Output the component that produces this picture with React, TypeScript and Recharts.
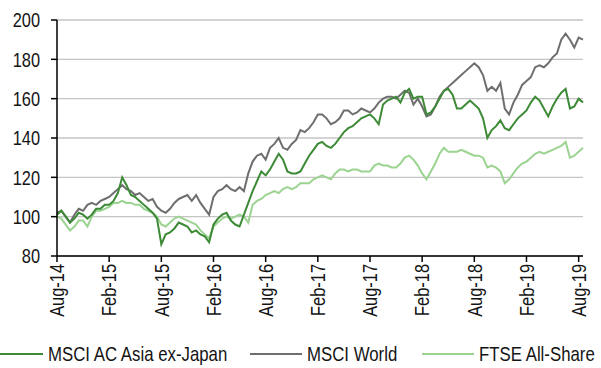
import React from 'react';
import { LineChart, Line, XAxis, YAxis, CartesianGrid, Legend } from 'recharts';

// half-month steps from Aug-14 (t = 0) to mid Aug-19
const TICK_LABELS = ['Aug-14', 'Feb-15', 'Aug-15', 'Feb-16', 'Aug-16', 'Feb-17', 'Aug-17', 'Feb-18', 'Aug-18', 'Feb-19', 'Aug-19'];
const Y_TICKS = [80, 100, 120, 140, 160, 180, 200];

const asiaExJapan = [
  101, 103, 100, 97, 99, 102, 101, 99, 101, 104,
  104, 106, 106, 108, 112, 120, 116, 111, 110, 108,
  106, 104, 102, 99, 86, 91, 92, 94, 97, 96,
  95, 92, 93, 91, 90, 87, 96, 99, 101, 102,
  98, 96, 95, 101, 107, 113, 118, 123, 121, 124,
  128, 132, 129, 123, 122, 122, 123, 127, 131, 134,
  137, 138, 136, 135, 137, 140, 143, 145, 146, 148,
  150, 151, 152, 150, 147, 157, 159, 160, 161, 158,
  163, 165, 160, 161, 161, 152, 153, 156, 160, 164,
  165, 162, 155, 155, 157, 159, 157, 155, 150, 140,
  144, 146, 149, 145, 144, 147, 150, 152, 154, 158,
  161, 159, 155, 151, 156, 160, 163, 165, 155, 156,
  160, 158,
];

const msciWorld = [
  102, 103, 100, 97, 101, 104, 103, 106, 107, 106,
  108, 109, 110, 112, 114, 116, 114, 113, 111, 112,
  110, 108, 109, 105, 103, 102, 104, 107, 109, 110,
  111, 108, 111, 107, 104, 101, 110, 113, 114, 116,
  114, 113, 115, 113, 122, 128, 131, 132, 129, 135,
  137, 140, 135, 134, 137, 139, 144, 143, 145, 148,
  152, 152, 150, 147, 148, 150, 154, 154, 152, 153,
  155, 154, 153, 155, 158, 160, 161, 161, 160, 162,
  164, 163, 157, 160, 156, 151, 152, 156, 161, 164,
  166, 168, 170, 172, 174, 176, 178, 176, 172, 164,
  166, 164, 168, 155, 152, 158, 162, 167, 169, 171,
  176, 177, 176, 178, 181, 183, 190, 193, 190, 186,
  191, 190,
];

const ftseAllShare = [
  100, 99, 96, 93, 95, 98, 98, 95, 100, 103,
  103, 104, 105, 107, 107, 108, 107, 107, 106, 106,
  104, 103, 102, 100, 96, 95, 97, 99, 100, 99,
  98, 97, 96, 93, 91, 89, 95, 97, 99, 100,
  99, 100, 101, 100, 97, 106, 108, 109, 111, 112,
  113, 112, 114, 115, 114, 115, 117, 117, 117, 119,
  120, 121, 120, 119, 122, 124, 124, 123, 124, 124,
  123, 123, 123, 126, 127, 126, 126, 125, 125, 127,
  130, 131, 129, 126, 122, 119, 123, 127, 132, 135,
  133, 133, 133, 134, 133, 132, 131, 131, 130, 125,
  126, 125, 123, 117, 119, 122, 125, 127, 128, 130,
  132, 133, 132, 133, 134, 135, 136, 138, 130, 131,
  133, 135,
];

const data = asiaExJapan.map((v, i) => ({
  t: i / 2,
  asia: v,
  world: msciWorld[i],
  ftse: ftseAllShare[i],
}));

// no narrow font installed: squeeze Liberation Sans horizontally instead
const FONT = '"Liberation Sans", Arial, sans-serif';
const SQUEEZE = 0.82;
const TEXT = '#141414';

const SERIES = [
  { key: 'asia', name: 'MSCI AC Asia ex-Japan', color: '#3d8a36', lineX: -9 },
  { key: 'world', name: 'MSCI World', color: '#6e6e6e', lineX: 250 },
  { key: 'ftse', name: 'FTSE All-Share', color: '#9bd391', lineX: 422 },
];

const XTick = ({ x, y, payload }: any) => (
  <text
    transform={`translate(${x}, ${y}) rotate(-90) scale(${SQUEEZE}, 1)`}
    textAnchor="end"
    dy="0.36em"
    fill={TEXT}
    fontSize={20}
    fontFamily={FONT}
  >
    {TICK_LABELS[Math.round(payload.value / 6)]}
  </text>
);

const YTick = ({ x, y, payload }: any) => (
  <text
    transform={`translate(${x}, ${y}) scale(${SQUEEZE}, 1)`}
    textAnchor="end"
    dy="0.36em"
    fill={TEXT}
    fontSize={20}
    fontFamily={FONT}
  >
    {payload.value}
  </text>
);

const LegendContent = () => (
  <svg width={601} height={24} style={{ overflow: 'visible', display: 'block' }}>
    {SERIES.map((s) => (
      <g key={s.key}>
        <line x1={s.lineX} x2={s.lineX + 52} y1={12} y2={12} stroke={s.color} strokeWidth={2} />
        <text
          transform={`translate(${s.lineX + 57}, 12) scale(${SQUEEZE}, 1)`}
          dy="0.36em"
          fill={TEXT}
          fontSize={20.5}
          fontFamily={FONT}
        >
          {s.name}
        </text>
      </g>
    ))}
  </svg>
);

export default function App() {
  return (
    <div style={{ position: 'absolute', left: 0, top: 0, width: 601, height: 368, background: '#fff' }}>
      <LineChart width={601} height={368} data={data} margin={{ top: 20, right: 18, left: 0, bottom: 2 }}>
        <CartesianGrid horizontal vertical={false} stroke="#c4c4c4" strokeWidth={1.4} />
        <XAxis
          type="number"
          dataKey="t"
          domain={[0, 60.5]}
          ticks={[0, 6, 12, 18, 24, 30, 36, 42, 48, 54, 60]}
          height={86}
          tickSize={6}
          tickMargin={2}
          axisLine={{ stroke: '#000', strokeWidth: 1.5 }}
          tickLine={{ stroke: '#000', strokeWidth: 1.5 }}
          tick={<XTick />}
          interval={0}
        />
        <YAxis
          domain={[80, 200]}
          ticks={Y_TICKS}
          width={57}
          tickSize={6}
          tickMargin={11}
          axisLine={{ stroke: '#000', strokeWidth: 1.5 }}
          tickLine={{ stroke: '#000', strokeWidth: 1.5 }}
          tick={<YTick />}
          interval={0}
        />
        <Legend verticalAlign="bottom" height={24} content={<LegendContent />} />
        <Line dataKey="ftse" name="FTSE All-Share" stroke="#9bd391" strokeWidth={2} dot={false} isAnimationActive={false} />
        <Line dataKey="world" name="MSCI World" stroke="#6e6e6e" strokeWidth={2} dot={false} isAnimationActive={false} />
        <Line dataKey="asia" name="MSCI AC Asia ex-Japan" stroke="#3d8a36" strokeWidth={2} dot={false} isAnimationActive={false} />
      </LineChart>
    </div>
  );
}
